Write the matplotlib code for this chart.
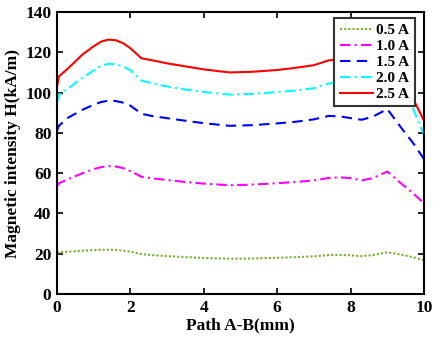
import matplotlib
matplotlib.use("Agg")
import matplotlib.pyplot as plt

x = [0, 0.05, 0.3, 0.7, 1.0, 1.2, 1.4, 1.6, 1.8, 2.0, 2.3, 2.6, 3.0, 3.5, 4.0, 4.7, 5.3,
     6.0, 6.5, 7.0, 7.4, 7.7, 8.0, 8.3, 8.6, 9.0, 9.4, 9.7, 10.0]

h_05 = [20.3, 20.6, 21, 21.5, 21.8, 21.95, 22, 21.9, 21.5, 21, 19.8, 19.3, 18.8, 18.3, 17.9, 17.5, 17.6,
        18, 18.3, 18.7, 19.3, 19.4, 19.2, 18.8, 19.3, 20.7, 19.5, 18.3, 16.8]
h_10 = [53.5, 55, 57, 60, 62, 63, 63.5, 63.3, 62.5, 61, 58.2, 57.4, 56.6, 55.6, 54.8, 54, 54.3,
        55, 55.6, 56.4, 57.6, 57.9, 57.5, 56.4, 57.5, 60.8, 54.5, 50, 45]
h_15 = [81, 83.5, 87.5, 91.5, 94, 95.3, 96, 95.8, 95, 93.5, 89.5, 88.3, 87.3, 86, 84.8, 83.5, 83.8,
        84.7, 85.5, 86.7, 88.4, 88.2, 87.3, 86.5, 88, 91.8, 82, 75, 67]
h_20 = [95, 99, 102, 107.5, 111, 113.3, 114.3, 114, 113, 111, 106, 104.5, 103, 101.5, 100.3, 99, 99.3,
        100.3, 101, 102.2, 104.5, 105, 104.7, 103.5, 104.5, 108, 99, 92, 79]
h_25 = [103, 108, 112, 119, 123, 125.3, 126.3, 126, 124.5, 122, 117, 116, 114.5, 113, 111.5, 110, 110.3,
        111.2, 112.3, 113.6, 116, 116.5, 116.3, 115.5, 116, 119, 107, 97, 86]

labels = ["0.5 A", "1.0 A", "1.5 A", "2.0 A", "2.5 A"]
series = [h_05, h_10, h_15, h_20, h_25]
colors = ["#77ac30", "#ff00ff", "#0000ff", "#00ffff", "#ff0000"]
styles = [(0, (1, 1)), (0, (5, 2, 1, 2)), (0, (5, 3)), (0, (5, 2, 1, 2)), "-"]

xticks = [0, 2, 4, 6, 8, 10]
yticks = [0, 20, 40, 60, 80, 100, 120, 140]

plt.rcParams["font.family"] = ["Liberation Serif", "DejaVu Serif"]
plt.rcParams["font.weight"] = "bold"

fig = plt.figure(figsize=(4.34, 3.40), dpi=100)
ax = fig.add_axes([57/434, 1-294/340, (424-57)/434, (294-12)/340])

for y, lab, c, ls in zip(series, labels, colors, styles):
    ax.plot(x, y, color=c, linestyle=ls, linewidth=1.5, label=lab)

ax.set_xlim(0, 10)
ax.set_ylim(0, 140)
ax.set_xticks(xticks)
ax.set_yticks(yticks)
ax.tick_params(direction="in", top=True, right=True, length=4, width=1.2,
               labelsize=12.5, pad=4)
for lab in ax.get_xticklabels() + ax.get_yticklabels():
    lab.set_fontweight("bold")
for sp in ax.spines.values():
    sp.set_linewidth(1.5)

ax.set_xlabel("Path A-B(mm)", fontsize=12.5, fontweight="bold", labelpad=1)
ax.set_ylabel("Magnetic intensity H(kA/m)", fontsize=12.5, fontweight="bold", labelpad=3)

leg = ax.legend(loc="upper right", bbox_to_anchor=(0.975, 0.979), borderaxespad=0,
                fancybox=False, framealpha=1, edgecolor="#333333",
                prop={"weight": "bold", "size": 11}, handlelength=2.2,
                labelspacing=0.15, handletextpad=0.2, borderpad=0.35)
leg.get_frame().set_linewidth(1.5)

fig.savefig("out.png", dpi=100)
